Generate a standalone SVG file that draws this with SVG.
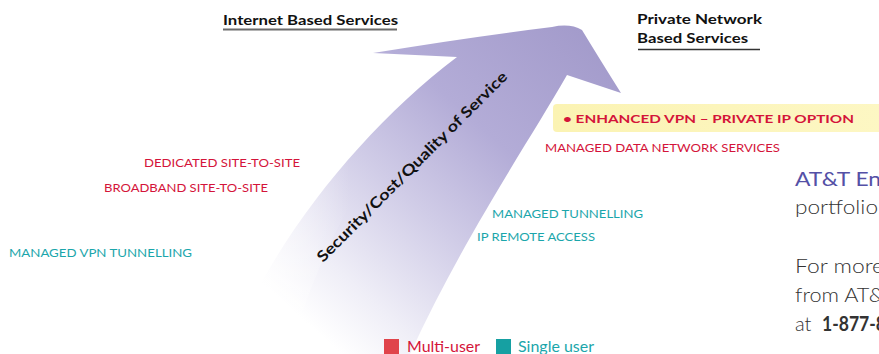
<svg xmlns="http://www.w3.org/2000/svg" width="879" height="354" viewBox="0 0 879 354">
<defs>
<linearGradient id="arrowGrad" gradientUnits="userSpaceOnUse" x1="590" y1="35" x2="320" y2="335">
<stop offset="0" stop-color="#a39bcb"/>
<stop offset="0.35" stop-color="#b3acd7"/>
<stop offset="0.6" stop-color="#d0cce7"/>
<stop offset="0.85" stop-color="#efeef7"/>
<stop offset="1" stop-color="#ffffff"/>
</linearGradient>
<linearGradient id="edgeFade" gradientUnits="userSpaceOnUse" x1="240" y1="250" x2="350" y2="250">
<stop offset="0" stop-color="#ffffff" stop-opacity="0.7"/>
<stop offset="1" stop-color="#ffffff" stop-opacity="0"/>
</linearGradient>
<linearGradient id="hl" x1="0" y1="0" x2="1" y2="0">
<stop offset="0" stop-color="#fbf3b3"/>
<stop offset="1" stop-color="#fdf7c4"/>
</linearGradient>
</defs>
<style>
text{font-family:"Lato","Liberation Sans",sans-serif;}
.red{fill:#d4143a;font-size:11.5px;}
.teal{fill:#1ba6ab;font-size:11.5px;}
.hdr{fill:#111;font-size:14px;font-weight:bold;}
.body{fill:#333;font-size:20px;font-weight:300;}
.leg{font-size:15px;}
</style>
<rect width="879" height="354" fill="#ffffff"/>
<g id="arrow">
<path d="M373,53 Q470,37 552,27 Q570,23 582,30 Q599,58 621,93 L567,75 C530,140 465,235 410,354 L230,354 C265,250 360,130 457,57 Z" fill="url(#arrowGrad)"/>
<path d="M230,354 C265,250 360,130 457,57 L462,60 C380,140 320,240 290,354 Z" fill="url(#edgeFade)"/>
<text x="323" y="263" transform="rotate(-45 323 263)" font-size="15" font-weight="bold" fill="#111" textLength="262" lengthAdjust="spacingAndGlyphs">Security/Cost/Quality of Service</text>
</g>
<g id="internet-header">
<text class="hdr" x="223" y="25" textLength="175" lengthAdjust="spacingAndGlyphs">Internet Based Services</text>
<line x1="223" y1="29.5" x2="397" y2="29.5" stroke="#6b6b6b" stroke-width="2"/>
</g>
<g id="private-header">
<text class="hdr" x="637" y="24" textLength="125" lengthAdjust="spacingAndGlyphs">Private Network</text>
<text class="hdr" x="637" y="43" textLength="111" lengthAdjust="spacingAndGlyphs">Based Services</text>
<line x1="638" y1="49.5" x2="760" y2="49.5" stroke="#333" stroke-width="1.3"/>
</g>
<g id="enhanced-vpn">
<rect x="553" y="104" width="340" height="28" rx="4" fill="url(#hl)"/>
<text class="red" x="563" y="123" font-weight="bold" font-size="12" textLength="291" lengthAdjust="spacingAndGlyphs">• ENHANCED VPN – PRIVATE IP OPTION</text>
</g>
<g id="managed-data">
<text class="red" x="545" y="152" textLength="235" lengthAdjust="spacingAndGlyphs">MANAGED DATA NETWORK SERVICES</text>
</g>
<g id="dedicated">
<text class="red" x="144" y="167" textLength="156" lengthAdjust="spacingAndGlyphs">DEDICATED SITE-TO-SITE</text>
</g>
<g id="broadband">
<text class="red" x="104" y="192" textLength="164" lengthAdjust="spacingAndGlyphs">BROADBAND SITE-TO-SITE</text>
</g>
<g id="managed-vpn-tunnelling">
<text class="teal" x="9" y="257" textLength="183" lengthAdjust="spacingAndGlyphs">MANAGED VPN TUNNELLING</text>
</g>
<g id="managed-tunnelling">
<text class="teal" x="492" y="217.5" textLength="151" lengthAdjust="spacingAndGlyphs">MANAGED TUNNELLING</text>
</g>
<g id="ip-remote">
<text class="teal" x="477" y="240.5" textLength="118" lengthAdjust="spacingAndGlyphs">IP REMOTE ACCESS</text>
</g>
<g id="side-text">
<text class="body" x="795" y="186" textLength="86" lengthAdjust="spacingAndGlyphs" style="fill:#5450a6;font-weight:400">AT&amp;T En</text>
<text class="body" x="795" y="214" textLength="83" lengthAdjust="spacingAndGlyphs">portfolio</text>
<text class="body" x="795" y="273" textLength="89" lengthAdjust="spacingAndGlyphs">For more</text>
<text class="body" x="795" y="302" textLength="89" lengthAdjust="spacingAndGlyphs">from AT&amp;</text>
<text class="body" x="795" y="331">at</text>
<text class="body" x="822" y="331" font-weight="bold" fill="#111" style="font-weight:700" textLength="64" lengthAdjust="spacingAndGlyphs">1-877-8</text>
</g>
<g id="legend">
<rect x="384" y="339" width="15" height="15" fill="#e0444b"/>
<text class="leg" x="407" y="352" fill="#d4143a" textLength="73" lengthAdjust="spacingAndGlyphs">Multi-user</text>
<rect x="496" y="339" width="15" height="15" fill="#16a0a2"/>
<text class="leg" x="518" y="352" fill="#1ba6ab" textLength="76" lengthAdjust="spacingAndGlyphs">Single user</text>
</g>
</svg>
